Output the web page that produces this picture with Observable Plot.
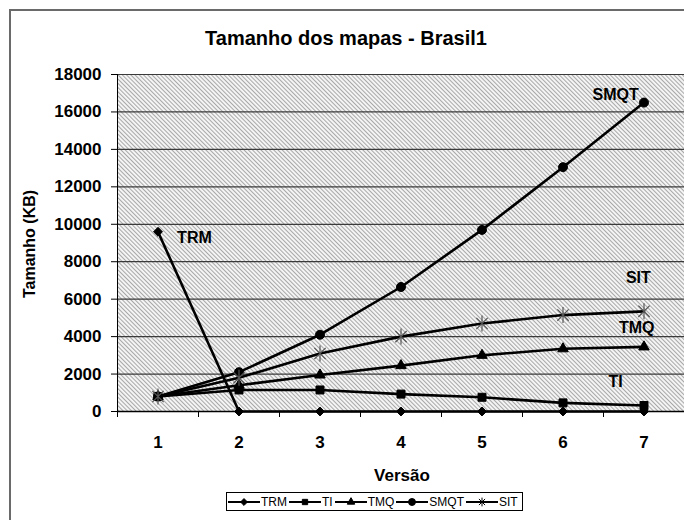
<!DOCTYPE html>
<html>
<head>
<meta charset="utf-8">
<script src="https://cdn.jsdelivr.net/npm/d3@7"></script>
<script src="https://cdn.jsdelivr.net/npm/@observablehq/plot@0.6"></script>
<style>
  html, body { margin: 0; padding: 0; background: #fff; }
  #wrap { position: relative; width: 684px; height: 520px; overflow: hidden; font-family: "Liberation Sans", Arial, sans-serif; }
  #border { position: absolute; left: 9px; top: 9px; width: 700px; height: 540px; border: 2px solid #6a6a6a; box-sizing: border-box; }
  #chart { position: absolute; left: 0; top: 0; }
  #title { position: absolute; left: 0; width: 684px; top: 27px; text-align: center; font-weight: bold; font-size: 20px; padding-left: 4px; }
  #ylabel { position: absolute; left: 30px; top: 244px; transform: translate(-50%, -50%) rotate(-90deg); font-weight: bold; font-size: 16px; white-space: nowrap; }
  #xlabel { position: absolute; left: 402px; top: 466px; transform: translateX(-50%); font-weight: bold; font-size: 17px; }
  #legend { position: absolute; left: 226px; top: 492px; height: 19px; border: 1px solid #000; box-sizing: border-box; display: flex; align-items: center; padding: 0 3px 0 0; font-size: 12px; background: #fff; }
  #legend .item { display: flex; align-items: center; margin-right: 1px; }
  #legend svg { display: block; }
</style>
</head>
<body>
<div id="wrap">
  <div id="border"></div>
  <div id="chart"></div>
  <div id="title">Tamanho dos mapas - Brasil1</div>
  <div id="ylabel">Tamanho (KB)</div>
  <div id="xlabel">Versão</div>
  <div id="legend"></div>
</div>
<script>
// ---- data ----
const versions = [1, 2, 3, 4, 5, 6, 7];
const seriesNames = ["TRM", "TI", "TMQ", "SMQT", "SIT"];
const TRM  = [9600, 0, 0, 0, 0, 0, 0];
const TI   = [800, 1150, 1150, 930, 760, 460, 320];
const TMQ  = [800, 1400, 1950, 2450, 3000, 3350, 3450];
const SMQT = [800, 2100, 4100, 6650, 9700, 13050, 16500];
const SIT  = [800, 1800, 3100, 4000, 4700, 5150, 5350];
const yTicks = [0, 2000, 4000, 6000, 8000, 10000, 12000, 14000, 16000, 18000];
const xBounds = [0.5, 1.5, 2.5, 3.5, 4.5, 5.5, 6.5, 7.5];
// series annotation labels (data coordinates)
const labelNames = ["TRM", "SMQT", "SIT", "TMQ", "TI"];
const labelX = [1.45, 6.65, 6.93, 6.91, 6.65];
const labelY = [9250, 16900, 7150, 4450, 1600];

const valuesBySeries = {TRM, TI, TMQ, SMQT, SIT};
const data = seriesNames.flatMap(s => versions.map((v, i) => ({series: s, x: v, y: valuesBySeries[s][i]})));
const labels = labelNames.map((t, i) => ({text: t, x: labelX[i], y: labelY[i]}));

// star marker (Excel style "*")
const star = {
  draw(ctx, size) {
    const r = Math.sqrt(size / Math.PI);
    const d = r * Math.SQRT1_2;
    ctx.moveTo(0, -r); ctx.lineTo(0, r);
    ctx.moveTo(-d, -d); ctx.lineTo(d, d);
    ctx.moveTo(-d, d); ctx.lineTo(d, -d);
  }
};
const symbolOf = {TRM: "diamond2", TI: "square", TMQ: "triangle2", SMQT: "circle", SIT: star};
const rOf = {TRM: 4, TI: 4.5, TMQ: 5, SMQT: 4.5, SIT: 8};

const marks = [
  Plot.frame({fill: "url(#hatch)", stroke: null}),
  Plot.ruleY(yTicks.filter(d => d > 0), {stroke: "#3a3a3a", strokeWidth: 1.2}),
  Plot.axisY(yTicks, {tickSize: 6, tickPadding: 10, fontSize: 17, fontWeight: "bold", stroke: "#000", label: null, tickFormat: d => String(d)}),
  Plot.axisX(xBounds, {tickSize: 6, tickFormat: () => "", label: null, stroke: "#000"}),
  Plot.axisX(versions, {tickSize: 0, tickPadding: 24, fontSize: 17, fontWeight: "bold", label: null, tickFormat: d => String(d)}),
  Plot.ruleX([0.5], {stroke: "#000", strokeWidth: 1}),
  Plot.ruleY([0], {stroke: "#000", strokeWidth: 1.5}),
  Plot.line(data, {x: "x", y: "y", z: "series", stroke: "#000", strokeWidth: 2.6}),
];
for (const s of seriesNames) {
  const sub = data.filter(d => d.series === s);
  if (s === "SIT") {
    marks.push(Plot.dot(sub, {x: "x", y: "y", symbol: () => star, r: rOf[s], stroke: "#555", strokeWidth: 1.2}));
  } else {
    marks.push(Plot.dot(sub, {x: "x", y: "y", symbol: symbolOf[s], r: rOf[s], fill: "#000", stroke: "#000", strokeWidth: 1}));
  }
}
marks.push(Plot.text(labels, {x: "x", y: "y", text: "text", fontSize: 16, fontWeight: "bold", fill: "#000"}));

const chart = Plot.plot({
  width: 684,
  height: 520,
  marginLeft: 117,
  marginRight: 0,
  marginTop: 74,
  marginBottom: 109,
  style: {fontFamily: "'Liberation Sans', Arial, sans-serif", color: "#000", background: "transparent", overflow: "visible"},
  x: {type: "linear", domain: [0.5, 7.5], axis: null},
  y: {domain: [0, 18000], axis: null},
  symbol: {type: "identity"},
  marks
});

// hatch pattern defs
const ns = "http://www.w3.org/2000/svg";
const defs = document.createElementNS(ns, "defs");
defs.innerHTML = `<pattern id="hatch" patternUnits="userSpaceOnUse" width="3" height="3" patternTransform="rotate(-45)">
  <rect width="3" height="3" fill="#f6f6f6"/>
  <line x1="0.5" y1="0" x2="0.5" y2="3" stroke="#a8a8a8" stroke-width="1.1"/>
</pattern>`;
chart.insertBefore(defs, chart.firstChild);
document.getElementById("chart").appendChild(chart);

// legend
const legend = d3.select("#legend");
const legendSymbols = {TRM: d3.symbolDiamond2, TI: d3.symbolSquare2, TMQ: d3.symbolTriangle2, SMQT: d3.symbolCircle, SIT: star};
const legendSizes = {TRM: 30, TI: 36, TMQ: 40, SMQT: 38, SIT: 60};
for (const s of seriesNames) {
  const item = legend.append("div").attr("class", "item");
  const svg = item.append("svg").attr("width", 34).attr("height", 14);
  svg.append("line").attr("x1", 1).attr("x2", 33).attr("y1", 7).attr("y2", 7).attr("stroke", "#000").attr("stroke-width", 2);
  svg.append("path").attr("transform", "translate(17,7)")
    .attr("d", d3.symbol(legendSymbols[s], legendSizes[s])())
    .attr("fill", s === "SIT" ? "none" : "#000")
    .attr("stroke", "#000").attr("stroke-width", 1);
  item.append("span").text(s);
}
</script>
</body>
</html>
